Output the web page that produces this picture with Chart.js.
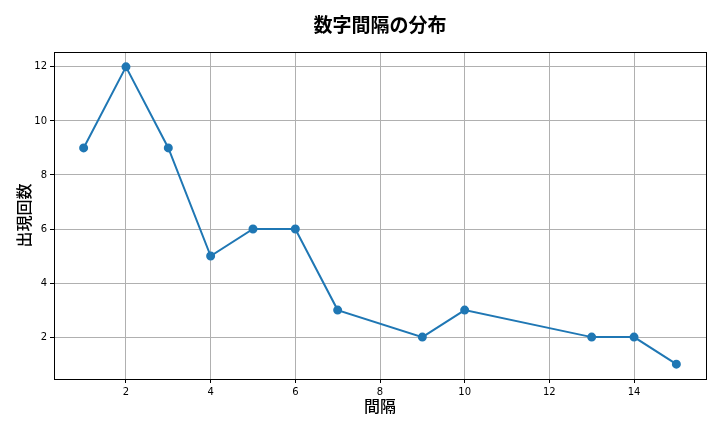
<!DOCTYPE html>
<html>
<head>
<meta charset="utf-8">
<script src="https://cdn.jsdelivr.net/npm/chart.js@4.4.1/dist/chart.umd.min.js"></script>
<style>
html,body{margin:0;padding:0;background:#fff;}
#wrap{width:720px;height:432px;position:relative;}
</style>
</head>
<body>
<div id="wrap"><canvas id="c" width="720" height="432"></canvas></div>
<script>
const gaps = [1, 2, 3, 4, 5, 6, 7, 9, 10, 13, 14, 15];
const counts = [9, 12, 9, 5, 6, 6, 3, 2, 3, 2, 2, 1];
const xTicks = [2, 4, 6, 8, 10, 12, 14];
const yTicks = [2, 4, 6, 8, 10, 12];
const titleText = '数字間隔の分布';
const xLabel = '間隔';
const yLabel = '出現回数';

const points = gaps.map((g, i) => ({x: g, y: counts[i]}));

const framePlugin = {
  id: 'frame',
  afterDraw(chart) {
    const {ctx, chartArea: a} = chart;
    ctx.save();
    ctx.strokeStyle = '#000';
    ctx.lineWidth = 1;
    ctx.strokeRect(Math.round(a.left) + 0.5, Math.round(a.top) + 0.5, Math.round(a.right - a.left), Math.round(a.bottom - a.top));
    ctx.fillStyle = '#000';
    ctx.font = 'bold 19px "Noto Sans CJK JP"';
    ctx.textAlign = 'center';
    ctx.textBaseline = 'middle';
    ctx.fillText(titleText, (a.left + a.right) / 2, 25);
    ctx.restore();
  }
};

new Chart(document.getElementById('c'), {
  type: 'line',
  data: {
    datasets: [{
      data: points,
      borderColor: '#1f77b4',
      backgroundColor: '#1f77b4',
      borderWidth: 2,
      pointRadius: 3.5,
      pointHoverRadius: 3.5,
      tension: 0,
      fill: false
    }]
  },
  options: {
    responsive: false,
    animation: false,
    devicePixelRatio: 1,
    layout: {padding: {top: 52, right: 14, left: 0, bottom: 0}},
    plugins: {legend: {display: false}, tooltip: {enabled: false}},
    scales: {
      x: {
        type: 'linear',
        min: 0.3, max: 15.7,
        afterBuildTicks(s) { s.ticks = xTicks.map(v => ({value: v})); },
        afterFit(s) { s.height = 53; },
        grid: {color: '#b0b0b0', lineWidth: 1, tickColor: '#000', tickLength: 4, drawTicks: true},
        border: {display: false},
        ticks: {color: '#000', font: {family: 'DejaVu Sans', size: 10}, padding: 3, maxRotation: 0},
        title: {display: true, text: xLabel, color: '#000', font: {family: 'Noto Sans CJK JP', size: 16, weight: 500}, padding: {top: 4, bottom: 16}}
      },
      y: {
        type: 'linear',
        min: 0.45, max: 12.55,
        afterBuildTicks(s) { s.ticks = yTicks.map(v => ({value: v})); },
        afterFit(s) { s.width = 54; },
        grid: {color: '#b0b0b0', lineWidth: 1, tickColor: '#000', tickLength: 4, drawTicks: true},
        border: {display: false},
        ticks: {color: '#000', font: {family: 'DejaVu Sans', size: 10}, padding: 3},
        title: {display: true, text: yLabel, color: '#000', font: {family: 'Noto Sans CJK JP', size: 16, weight: 500}, padding: {top: 14, bottom: 4}}
      }
    }
  },
  plugins: [framePlugin]
});
</script>
</body>
</html>
